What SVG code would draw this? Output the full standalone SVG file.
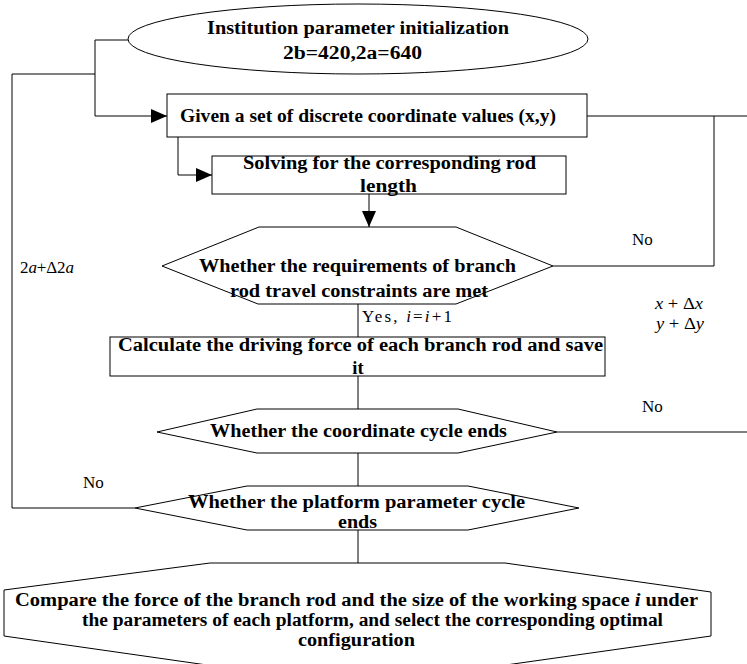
<svg xmlns="http://www.w3.org/2000/svg" width="747" height="664" viewBox="0 0 747 664">
<style>
.s{fill:#fff;stroke:#000;stroke-width:1}
.c{fill:none;stroke:#000;stroke-width:1}
.b{font-family:"Liberation Serif","Times New Roman",serif;font-weight:bold;font-size:18.5px;fill:#000}
.r{font-family:"Liberation Serif","Times New Roman",serif;font-size:17px;fill:#000}
</style>
<defs>
<marker id="ah" markerUnits="userSpaceOnUse" markerWidth="16" markerHeight="14" refX="16" refY="7" orient="auto">
<path d="M0,0 L16,7 L0,14 z" fill="#000"/>
</marker>
</defs>
<rect width="747" height="664" fill="#fff"/>
<g id="connectors">
<polyline class="c" points="128,40 95,40 95,116 167,116" marker-end="url(#ah)"/>
<polyline class="c" points="95,74 12,74 12,508 135,508"/>
<polyline class="c" points="587,116 747,116"/>
<polyline class="c" points="714,116 714,266 553,266"/>
<polyline class="c" points="178,137 178,175 212,175" marker-end="url(#ah)"/>
<line class="c" x1="369" y1="194" x2="369" y2="227" marker-end="url(#ah)"/>
<line class="c" x1="358" y1="304" x2="358" y2="337"/>
<line class="c" x1="358" y1="376" x2="358" y2="409"/>
<line class="c" x1="557" y1="432" x2="747" y2="432"/>
<line class="c" x1="358" y1="453" x2="358" y2="486"/>
<line class="c" x1="358" y1="530" x2="358" y2="563"/>
<text class="r" x="632" y="245">No</text>
<text class="r" x="642" y="412">No</text>
<text class="r" x="83" y="488">No</text>
<text class="r" x="362" y="322" textLength="90" lengthAdjust="spacing">Yes, <tspan font-style="italic">i</tspan>=<tspan font-style="italic">i</tspan>+1</text>
<text class="r" x="20" y="273" font-size="15" textLength="54" lengthAdjust="spacing">2<tspan font-style="italic">a</tspan>+Δ2<tspan font-style="italic">a</tspan></text>
<text class="r" x="655" y="309" font-size="16" textLength="48" lengthAdjust="spacingAndGlyphs"><tspan font-style="italic">x</tspan> + Δ<tspan font-style="italic">x</tspan></text>
<text class="r" x="656" y="329" font-size="16" textLength="48" lengthAdjust="spacingAndGlyphs"><tspan font-style="italic">y</tspan> + Δ<tspan font-style="italic">y</tspan></text>
</g>
<g id="start">
<ellipse class="s" cx="358" cy="39" rx="230" ry="35"/>
<text class="b" x="207" y="34" textLength="302" lengthAdjust="spacingAndGlyphs">Institution parameter initialization</text>
<text class="b" x="283" y="59" textLength="139" lengthAdjust="spacingAndGlyphs">2b=420,2a=640</text>
</g>
<g id="given">
<rect class="s" x="167" y="94" width="420" height="43"/>
<text class="b" x="180" y="122" textLength="376" lengthAdjust="spacingAndGlyphs">Given a set of discrete coordinate values (x,y)</text>
</g>
<g id="solve">
<rect class="s" x="212" y="156" width="354" height="38"/>
<text class="b" x="243" y="169" textLength="293" lengthAdjust="spacingAndGlyphs">Solving for the corresponding rod</text>
<text class="b" x="360" y="192" textLength="57" lengthAdjust="spacingAndGlyphs">length</text>
</g>
<g id="check">
<polygon class="s" points="259,227 456,227 553,266 456,304 258,304 162,266"/>
<text class="b" x="199" y="272" textLength="317" lengthAdjust="spacingAndGlyphs">Whether the requirements of branch</text>
<text class="b" x="230" y="297" textLength="258" lengthAdjust="spacingAndGlyphs">rod travel constraints are met</text>
</g>
<g id="calc">
<rect class="s" x="110" y="337" width="495" height="39"/>
<text class="b" x="118" y="351" textLength="485" lengthAdjust="spacingAndGlyphs">Calculate the driving force of each branch rod and save</text>
<text class="b" x="358" y="374" text-anchor="middle">it</text>
</g>
<g id="coord">
<polygon class="s" points="257,409 458,409 557,432 458,453 257,453 157,432"/>
<text class="b" x="210" y="437" textLength="297" lengthAdjust="spacingAndGlyphs">Whether the coordinate cycle ends</text>
</g>
<g id="platform">
<polygon class="s" points="247,486 468,486 579,508 468,530 247,530 135,508"/>
<text class="b" x="188" y="508" textLength="337" lengthAdjust="spacingAndGlyphs">Whether the platform parameter cycle</text>
<text class="b" x="338" y="528" textLength="39" lengthAdjust="spacingAndGlyphs">ends</text>
</g>
<g id="compare">
<polygon class="s" points="210,563 505,563 711,592 711,636 506,665 207,665 4,636 4,590"/>
<text class="b" x="15" y="606" font-size="18" textLength="683" lengthAdjust="spacingAndGlyphs">Compare the force of the branch rod and the size of the working space <tspan font-style="italic">i</tspan> under</text>
<text class="b" x="82" y="626" font-size="18" textLength="581" lengthAdjust="spacingAndGlyphs">the parameters of each platform, and select the corresponding optimal</text>
<text class="b" x="298" y="646" font-size="18" textLength="117" lengthAdjust="spacingAndGlyphs">configuration</text>
</g>
</svg>
